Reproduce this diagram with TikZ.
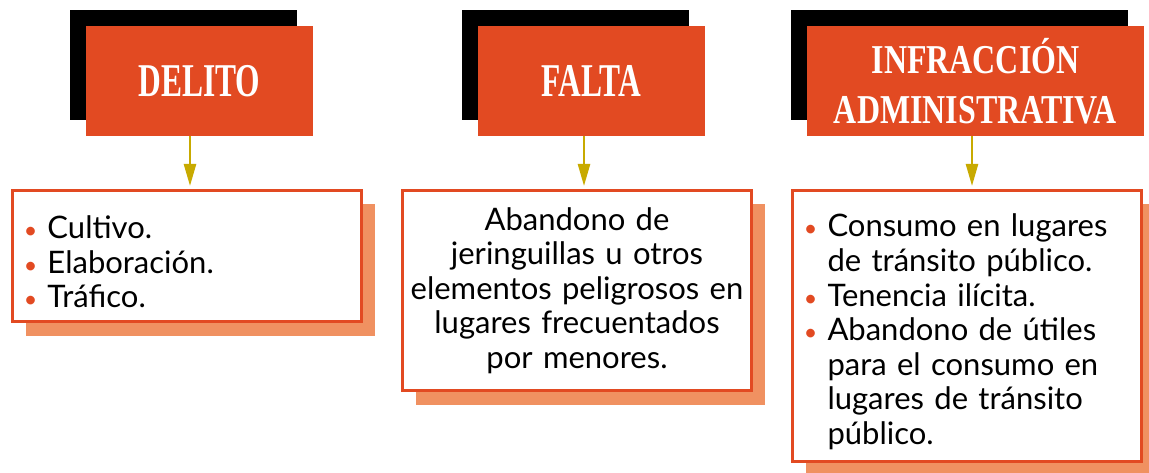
\documentclass[tikz,border=0pt]{standalone}
\usepackage{fontspec}
\setmainfont{Lato}
\newfontfamily\titular[FakeStretch=0.67]{Liberation Serif}
\newfontfamily\titularancho[FakeStretch=0.78]{Liberation Serif}
\usetikzlibrary{shadows,arrows.meta}

\definecolor{rojo}{RGB}{226,74,34}
\definecolor{salmon}{RGB}{240,145,97}
\definecolor{oliva}{RGB}{200,170,0}

\newenvironment{vinetas}{%
  \begin{list}{\makebox[0pt]{\textcolor{rojo}{\scalebox{0.75}{\textbullet}}}}{%
    \setlength{\leftmargin}{35pt}\setlength{\labelwidth}{0pt}%
    \setlength{\labelsep}{17pt}\setlength{\topsep}{0pt}%
    \setlength{\partopsep}{0pt}\setlength{\itemsep}{0pt}%
    \setlength{\parsep}{0pt}}}{\end{list}}

\tikzset{
  cabecera/.style={rectangle, fill=rojo, text=white, inner sep=0pt,
    minimum height=110pt, align=center,
    font=\titular\bfseries\fontsize{47}{50}\selectfont,
    general shadow={fill=black, shadow xshift=-16pt, shadow yshift=16pt}},
  caja/.style={rectangle, draw=rojo, line width=3pt, fill=white,
    inner sep=0pt, text width=349pt, minimum width=349pt,
    font=\fontsize{31}{34.6}\selectfont,
    general shadow={fill=salmon, shadow xshift=13pt, shadow yshift=-14pt}},
  flecha/.style={draw=oliva, line width=2.5pt,
    -{Triangle[length=22pt,width=12pt]}, shorten >=3pt}
}

\begin{document}
\begin{tikzpicture}[x=1pt,y=-1pt]
\useasboundingbox (0,0) rectangle (1149,473);

% cabeceras
\node[cabecera, minimum width=227pt] (delito) at (199.5,81) {DELITO};
\node[cabecera, minimum width=227pt] (falta) at (591.5,81) {FALTA};
\node[cabecera, minimum width=337pt, font=\titularancho\bfseries\fontsize{41}{50}\selectfont]
  (infraccion) at (975.5,81) {INFRACCIÓN\\ADMINISTRATIVA};

% cajas
\node[caja, minimum height=131pt] (tiposdelito) at (187,256) {%
\begin{vinetas}
\item Cultivo.
\item Elaboración.
\item Tráfico.
\end{vinetas}};

\node[caja, minimum height=200pt, align=center] (tiposfalta) at (577,290.5)
  {Abandono de\\ jeringuillas u otros\\ elementos peligrosos en\\
   lugares frecuentados\\ por menores.};

\node[caja, minimum height=271pt] (tiposinfraccion) at (967,326) {%
\begin{vinetas}
\item Consumo en lugares\\ de tránsito público.
\item Tenencia ilícita.
\item Abandono de útiles\\ para el consumo en\\ lugares de tránsito\\ público.
\end{vinetas}};

% flechas
\draw[flecha] ([xshift=-9.5pt]delito.south) -- ([xshift=-9.5pt]delito.south |- tiposdelito.north);
\draw[flecha] ([xshift=-7.5pt]falta.south) -- ([xshift=-7.5pt]falta.south |- tiposfalta.north);
\draw[flecha] ([xshift=-3.5pt]infraccion.south) -- ([xshift=-3.5pt]infraccion.south |- tiposinfraccion.north);

\end{tikzpicture}
\end{document}
